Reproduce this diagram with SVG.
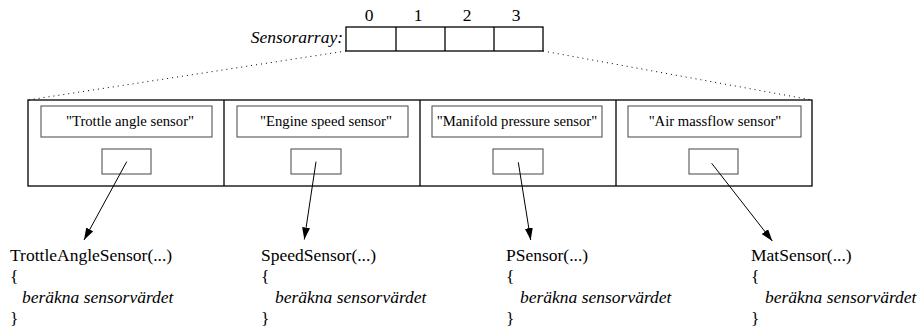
<svg xmlns="http://www.w3.org/2000/svg" width="920" height="333" viewBox="0 0 920 333">
<defs>
<style>
text{font-family:'Liberation Serif','Times New Roman',serif;fill:#000}
.code{font-size:17.5px}
.it{font-style:italic}
.lbl{font-size:14.7px;text-anchor:middle}
.outer{fill:none;stroke:#000;stroke-width:1.3}
.inner{fill:#fff;stroke:#555;stroke-width:1.1}
.arr{fill:none;stroke:#000;stroke-width:1}
.dot{fill:none;stroke:#000;stroke-width:1;stroke-dasharray:1 4}
</style>
<marker id="ah" viewBox="0 0 12 8" refX="12" refY="4" markerWidth="12" markerHeight="8" markerUnits="userSpaceOnUse" orient="auto">
<path d="M0,0 L12,4 L0,8 Z" fill="#000"/>
</marker>
</defs>
<g id="array">
<text x="343" y="43" class="code it" text-anchor="end">Sensorarray:</text>
<rect x="346" y="27" width="197" height="24" class="outer"/>
<line x1="396" y1="27" x2="396" y2="51" class="outer"/>
<line x1="445" y1="27" x2="445" y2="51" class="outer"/>
<line x1="494" y1="27" x2="494" y2="51" class="outer"/>
<text x="369" y="21" class="code" text-anchor="middle">0</text>
<text x="418" y="21" class="code" text-anchor="middle">1</text>
<text x="467" y="21" class="code" text-anchor="middle">2</text>
<text x="516" y="21" class="code" text-anchor="middle">3</text>
</g>
<g id="objects">
<rect x="28" y="100" width="784" height="86" class="outer"/>
<line x1="224" y1="100" x2="224" y2="186" class="outer"/>
<line x1="420" y1="100" x2="420" y2="186" class="outer"/>
<line x1="616" y1="100" x2="616" y2="186" class="outer"/>
</g>
<g id="obj0">
<rect x="41" y="106" width="171" height="31" class="inner"/>
<text x="130" y="126" class="lbl">"Trottle angle sensor"</text>
<rect x="102" y="149" width="49" height="25" class="inner"/>
</g>
<g id="obj1">
<rect x="237" y="106" width="171" height="31" class="inner"/>
<text x="326" y="126" class="lbl">"Engine speed sensor"</text>
<rect x="291" y="149" width="50" height="25" class="inner"/>
</g>
<g id="obj2">
<rect x="432" y="106" width="170" height="31" class="inner"/>
<text x="517" y="126" class="lbl">"Manifold pressure sensor"</text>
<rect x="493" y="149" width="50" height="25" class="inner"/>
</g>
<g id="obj3">
<rect x="628" y="106" width="173" height="31" class="inner"/>
<text x="715" y="126" class="lbl">"Air massflow sensor"</text>
<rect x="689" y="149" width="49" height="25" class="inner"/>
</g>
<g id="connectors">
<line x1="346" y1="51" x2="28" y2="100" class="dot"/>
<line x1="543" y1="51" x2="812" y2="100" class="dot"/>
<line x1="126.7" y1="161.7" x2="84" y2="240" class="arr" marker-end="url(#ah)"/>
<line x1="316" y1="161.7" x2="304.3" y2="239.5" class="arr" marker-end="url(#ah)"/>
<line x1="518.3" y1="162.3" x2="530.7" y2="240" class="arr" marker-end="url(#ah)"/>
<line x1="711.7" y1="163.3" x2="772.3" y2="241" class="arr" marker-end="url(#ah)"/>
</g>
<g id="code0">
<text x="10" y="261" class="code">TrottleAngleSensor(...)</text>
<text x="10" y="282" class="code">{</text>
<text x="22" y="303" class="code it">beräkna sensorvärdet</text>
<text x="10" y="324" class="code">}</text>
</g>
<g id="code1">
<text x="261" y="261" class="code">SpeedSensor(...)</text>
<text x="261" y="282" class="code">{</text>
<text x="275" y="303" class="code it">beräkna sensorvärdet</text>
<text x="261" y="324" class="code">}</text>
</g>
<g id="code2">
<text x="506" y="261" class="code">PSensor(...)</text>
<text x="506" y="282" class="code">{</text>
<text x="520" y="303" class="code it">beräkna sensorvärdet</text>
<text x="506" y="324" class="code">}</text>
</g>
<g id="code3">
<text x="751" y="261" class="code">MatSensor(...)</text>
<text x="751" y="282" class="code">{</text>
<text x="765" y="303" class="code it">beräkna sensorvärdet</text>
<text x="751" y="324" class="code">}</text>
</g>
</svg>
